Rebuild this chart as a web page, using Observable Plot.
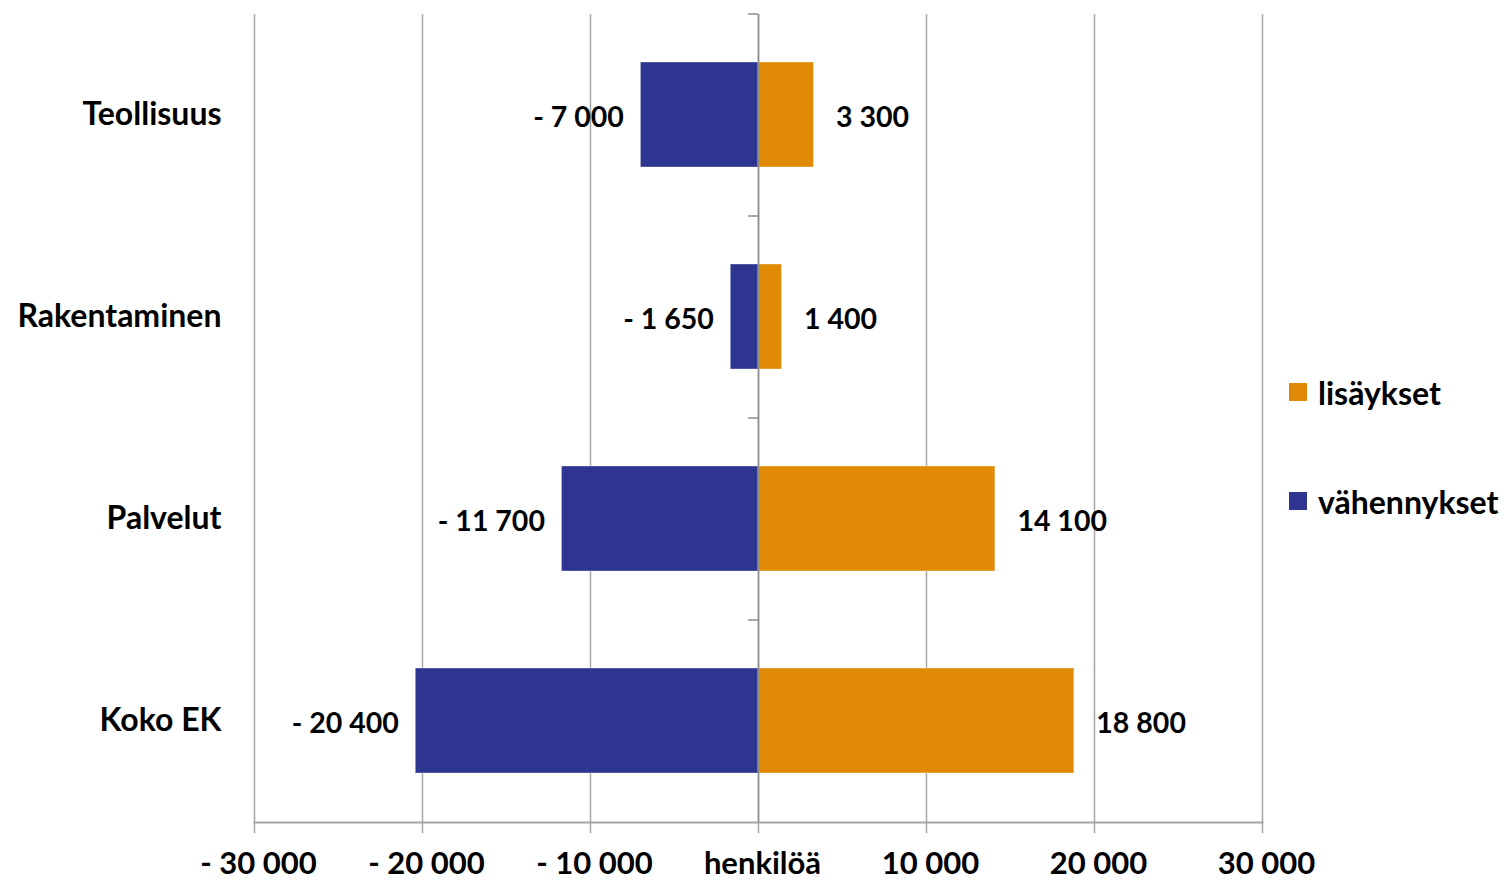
<!DOCTYPE html>
<html>
<head>
<meta charset="utf-8">
<script src="https://cdn.jsdelivr.net/npm/d3@7"></script>
<script src="https://cdn.jsdelivr.net/npm/@observablehq/plot@0.6"></script>
<style>
  html, body { margin: 0; padding: 0; background: #fff; }
  #wrap { position: relative; width: 1505px; height: 880px; font-family: Lato, "Open Sans", sans-serif; }
  #legend { position: absolute; left: 1289px; top: 373px; font-weight: bold; font-size: 32px; color: #000; }
  #legend .item { display: flex; align-items: center; height: 38px; margin-bottom: 71px; }
  #legend .sw { width: 18px; height: 18px; margin-right: 11px; box-sizing: border-box; }
</style>
</head>
<body>
<div id="wrap"><div id="legend"></div></div>
<script>
const categories = ["Teollisuus", "Rakentaminen", "Palvelut", "Koko EK"];
const lisaykset = [3300, 1400, 14100, 18800];
const vahennykset = [-7000, -1650, -11700, -20400];
const xTicks = [-30000, -20000, -10000, 0, 10000, 20000, 30000];
const zeroLabel = "henkilöä";
const seriesNames = ["lisäykset", "vähennykset"];
const colors = {"lisäykset": "#E08A05", "vähennykset": "#2E3590"};

const rows = [];
categories.forEach((c, i) => {
  rows.push({category: c, series: "vähennykset", value: vahennykset[i]});
  rows.push({category: c, series: "lisäykset", value: lisaykset[i]});
});

const num = d3.format(",");
const fmt = v => (v < 0 ? "- " + num(-v) : num(v)).replace(/,/g, " ");
const tickFmt = v => v === 0 ? zeroLabel : fmt(v);

const font = "Lato, 'Open Sans', sans-serif";

const chart = Plot.plot({
  width: 1505,
  height: 880,
  marginLeft: 254,
  marginRight: 243,
  marginTop: 14,
  marginBottom: 58,
  style: {fontFamily: font, fontWeight: "bold", fontSize: "28px", color: "#000", background: "#fff"},
  x: {domain: [-30000, 30000]},
  y: {domain: categories, paddingInner: 0.48, paddingOuter: 0.24},
  color: {domain: seriesNames, range: seriesNames.map(s => colors[s])},
  marks: [
    Plot.gridX(xTicks, {stroke: "#a6a6a6", strokeOpacity: 1, strokeWidth: 1.5}),
    Plot.barX(rows, {x: "value", y: "category", fill: "series", stroke: "#ffffff", strokeOpacity: 0.35, strokeWidth: 1}),
    Plot.ruleX([0], {stroke: "#8c8c8c", strokeWidth: 1.5}),
    Plot.ruleY(categories, {y: d => d, x1: 0, x2: -600, dy: -101, stroke: "#8c8c8c", strokeWidth: 1.5}),
    Plot.frame({anchor: "bottom", stroke: "#a6a6a6", strokeWidth: 2}),
    Plot.text(rows.filter(d => d.value < 0), {x: "value", y: "category", text: d => fmt(d.value), textAnchor: "end", dx: -17, dy: 3, fontSize: 28.5}),
    Plot.text(rows.filter(d => d.value > 0), {x: "value", y: "category", text: d => fmt(d.value), textAnchor: "start", dx: 22, dy: 3, fontSize: 28.5}),
    Plot.axisX(xTicks, {tickFormat: () => "", tickSize: 11, stroke: "#a6a6a6", strokeWidth: 1.5, label: null}),
    Plot.axisX(xTicks, {tickFormat: tickFmt, tickSize: 0, tickPadding: 29, dx: 4, fontSize: 31, label: null}),
    Plot.axisY({tickSize: 0, tickPadding: 33, fontSize: 32, label: null})
  ]
});

const wrap = document.getElementById("wrap");
wrap.insertBefore(chart, wrap.firstChild);

const legend = document.getElementById("legend");
seriesNames.forEach(s => {
  const item = document.createElement("div");
  item.className = "item";
  const sw = document.createElement("span");
  sw.className = "sw";
  sw.style.background = colors[s];
  item.appendChild(sw);
  const t = document.createElement("span");
  t.textContent = s;
  item.appendChild(t);
  legend.appendChild(item);
});
</script>
</body>
</html>
